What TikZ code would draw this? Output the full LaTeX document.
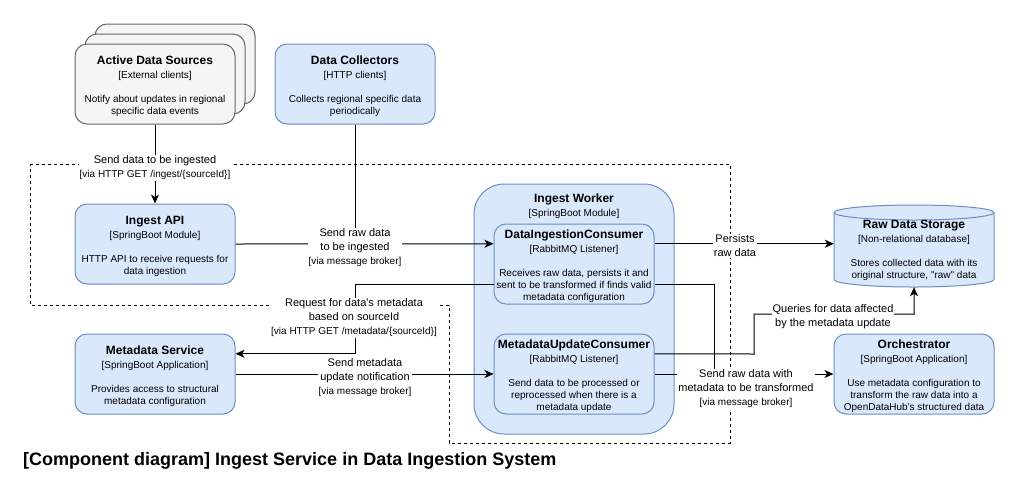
\documentclass[tikz,border=0pt]{standalone}
\usepackage{fontspec}
\newfontfamily\lsans{Liberation Sans}
\usetikzlibrary{arrows.meta,calc}

\definecolor{compfill}{HTML}{DAE8FC}
\definecolor{compline}{HTML}{6C8EBF}
\definecolor{extfill}{HTML}{F5F5F5}
\definecolor{extline}{HTML}{666666}

% bold component name (with a strut that sets the first row height)
% and the bracketed technology line of edge labels
\newcommand\boxtitle[1]{{\fontsize{12}{14}\selectfont\bfseries\rule{0pt}{14pt}#1}}
\newcommand\via[1]{{\fontsize{10}{14}\selectfont[#1]}}

\begin{document}
\lsans
\begin{tikzpicture}[x=1pt,y=-1pt,
  every node/.style={font=\lsans},
  comp/.style={draw=compline, fill=compfill, line width=1pt, rounded corners=12pt,
    minimum width=160pt, minimum height=80pt, inner sep=0pt, align=center,
    font=\lsans\fontsize{10}{12}\selectfont},
  ext/.style={comp, draw=extline, fill=extfill},
  container/.style={comp, rounded corners=30pt, minimum width=200pt, minimum height=250pt},
  plain/.style={inner sep=0pt, align=center, font=\lsans\fontsize{10}{12}\selectfont},
  boundary/.style={line width=0.8pt, dash pattern=on 3pt off 3pt},
  link/.style={line width=1pt},
  conn/.style={link, -{Stealth[length=9pt, width=8pt, inset=2.5pt]}},
  elabel/.style={fill=white, inner sep=1pt, align=center, font=\lsans\fontsize{11}{14}\selectfont},
]
\useasboundingbox (0,0) rectangle (1019,499);
\fill[white] (0,0) rectangle (1019,499);

% system boundary
\draw[boundary] (30,164) -- (730,164) -- (730,443) -- (449,443) -- (449,305) -- (30,305) -- cycle;

% external sources, drawn as a stack
\draw[draw=extline, fill=extfill, line width=1pt, rounded corners=12pt] (95,24) rectangle (255,104);
\draw[draw=extline, fill=extfill, line width=1pt, rounded corners=12pt] (85,34) rectangle (245,114);
\node[ext] (ads) at (155,84) {\boxtitle{Active Data Sources}\\[2pt]{[External clients]}\\[12pt]Notify about updates in regional\\specific data events};

\node[comp] (dc) at (355,84) {\boxtitle{Data Collectors}\\[2pt]{[HTTP clients]}\\[12pt]Collects regional specific data\\periodically};

\node[comp] (api) at (155,244) {\boxtitle{Ingest API}\\[2pt]{[SpringBoot Module]}\\[12pt]HTTP API to receive requests for\\data ingestion};

\node[comp] (ms) at (155,374) {\boxtitle{Metadata Service}\\[2pt]{[SpringBoot Application]}\\[12pt]Provides access to structural\\metadata configuration};

% ingest worker and its listeners
\node[container] (iw) at (574,309) {};
\node[plain, anchor=north] (iwtext) at (574,188.5) {\boxtitle{Ingest Worker}\\[2pt]{[SpringBoot Module]}};

\node[comp] (dic) at (574,264) {\boxtitle{DataIngestionConsumer}\\[2pt]{[RabbitMQ Listener]}\\[12pt]Receives raw data, persists it and\\sent to be transformed if finds valid\\metadata configuration};

\node[comp] (muc) at (574,374) {\boxtitle{MetadataUpdateConsumer}\\[2pt]{[RabbitMQ Listener]}\\[12pt]Send data to be processed or\\reprocessed when there is a\\metadata update};

% raw data storage cylinder
\draw[draw=compline, fill=compfill, line width=1pt]
  (834,212.5) -- (834,279.5) arc[start angle=180, end angle=360, x radius=80pt, y radius=7.5pt]
  -- (994,212.5) arc[start angle=0, end angle=180, x radius=80pt, y radius=7.5pt] -- cycle;
\draw[draw=compline, line width=1pt] (834,212.5) arc[start angle=180, end angle=360, x radius=80pt, y radius=7.5pt];
\node[plain, minimum width=160pt, minimum height=82pt] (rds) at (914,246) {};
\node[plain] (rdstext) at (914,248) {\boxtitle{Raw Data Storage}\\[2pt]{[Non-relational database]}\\[12pt]Stores collected data with its\\original structure, "raw" data};

\node[comp] (orch) at (914,374) {\boxtitle{Orchestrator}\\[2pt]{[SpringBoot Application]}\\[12pt]Use metadata configuration to\\transform the raw data into a\\OpenDataHub's structured data};

% exit points on the listeners
\coordinate (dicW1) at ($(dic.north west)!0.25!(dic.south west)$);
\coordinate (dicW3) at ($(dic.north west)!0.75!(dic.south west)$);
\coordinate (dicE1) at ($(dic.north east)!0.25!(dic.south east)$);
\coordinate (dicE3) at ($(dic.north east)!0.75!(dic.south east)$);
\coordinate (mucE1) at ($(muc.north east)!0.25!(muc.south east)$);
\coordinate (msE1) at ($(ms.north east)!0.25!(ms.south east)$);
\coordinate (collect) at (dc.south |- api.east);
\coordinate (transform) at (714,374);

% connectors
\draw[conn] (ads.south) -- (api.north);
\draw[link] (dc.south) -- (collect);
\draw[conn] (api.east) -- (dicW1);
\draw[conn] (dicW3) -| (dc.south |- msE1) -- (msE1);
\draw[conn] (ms.east) -- (muc.west);
\draw[conn] (dicE1) -- (dicE1 -| rds.west);
\draw[conn] (mucE1) -- (754,354) -- (754,314) -| (rds.south);
\draw[link] (dicE3) -| (transform);
\draw[conn] (muc.east) -- (orch.west);

% connector labels
\node[elabel] (l-ingest) at (155,168) {Send data to be ingested\\\via{via HTTP GET /ingest/\{sourceId\}}};
\node[elabel] (l-raw) at (355,248) {Send raw data\\to be ingested\\\via{via message broker}};
\node[elabel] (l-meta) at (354,318) {Request for data's metadata\\based on sourceId\\\via{via HTTP GET /metadata/\{sourceId\}}};
\node[elabel] (l-update) at (365,378) {Send metadata\\update notification\\\via{via message broker}};
\node[elabel] (l-persist) at (735,246) {Persists\\raw data};
\node[elabel] (l-query) at (833,317) {Queries for data affected\\by the metadata update};
\node[elabel] (l-transform) at (746,389) {Send raw data with\\metadata to be transformed\\\via{via message broker}};

% caption
\node[anchor=west, inner sep=0pt, font=\lsans\bfseries\fontsize{18}{22}\selectfont] (caption) at (23,461) {[Component diagram] Ingest Service in Data Ingestion System};
\end{tikzpicture}
\end{document}
